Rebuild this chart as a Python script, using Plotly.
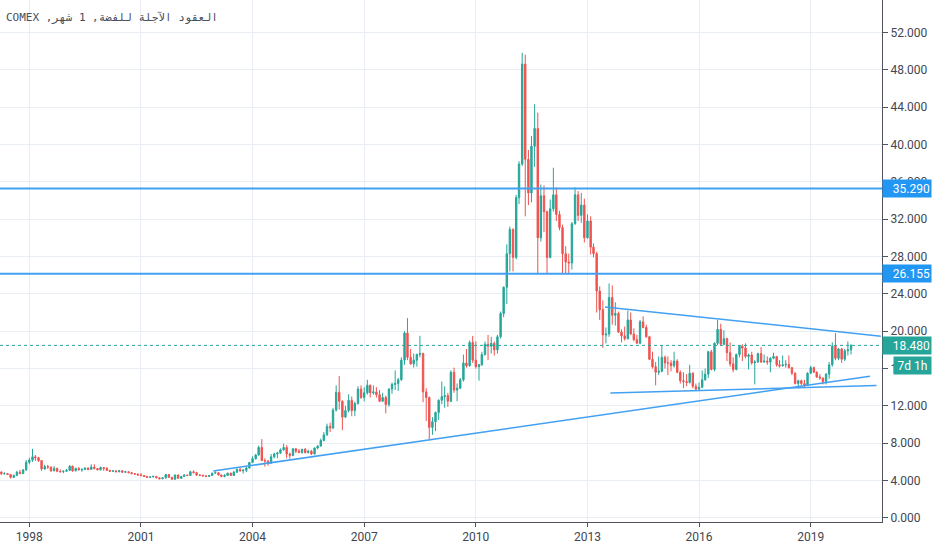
import pandas as pd
import plotly.graph_objects as go

# ---------------- data (monthly silver futures, COMEX) ----------------
start_month = "1997-03-01"

opens = [
    5.20, 4.93, 4.74, 4.75, 4.66, 4.35, 4.55, 4.90, 4.75, 5.15,  # 1997 (Mar-Dec)
    5.96, 6.20, 6.55, 6.45, 6.15, 5.25, 5.50, 5.45, 5.05, 5.30, 5.00, 4.95,  # 1998
    5.00, 5.10, 5.55, 5.05, 5.30, 5.15, 5.20, 5.35, 5.20, 5.45, 5.30, 5.15,  # 1999
    5.40, 5.30, 5.10, 5.00, 5.05, 4.95, 5.05, 4.90, 4.95, 4.85, 4.75, 4.70,  # 2000
    4.60, 4.55, 4.45, 4.35, 4.40, 4.45, 4.30, 4.20, 4.30, 4.65, 4.35, 4.15,  # 2001
    4.60, 4.25, 4.45, 4.60, 4.55, 4.95, 4.85, 4.60, 4.55, 4.50, 4.45, 4.55,  # 2002
    4.80, 4.85, 4.60, 4.45, 4.55, 4.80, 4.55, 4.90, 5.20, 5.05, 5.10, 5.35,  # 2003
    5.95, 6.35, 6.75, 7.55, 6.15, 6.10, 5.85, 6.55, 6.85, 6.95, 7.30, 7.55,  # 2004
    6.85, 6.70, 7.40, 7.15, 7.00, 7.35, 7.00, 7.15, 6.85, 7.50, 7.70, 8.30,  # 2005
    8.90, 9.80, 9.65, 11.55, 13.45, 12.50, 10.80, 11.50, 12.60, 11.50, 12.25, 13.80,  # 2006
    12.90, 13.40, 14.20, 13.40, 13.50, 13.20, 12.50, 12.90, 12.15, 13.80, 14.30, 14.40,  # 2007
    14.80, 16.90, 19.80, 17.20, 16.50, 16.90, 17.50, 17.60, 13.50, 12.90, 9.70, 10.30,  # 2008
    11.30, 12.60, 13.00, 13.10, 12.50, 15.60, 13.70, 13.90, 14.80, 16.60, 16.30, 18.80,  # 2009
    16.90, 16.20, 16.40, 17.50, 18.60, 18.40, 18.70, 18.00, 19.40, 21.90, 24.70, 28.30,  # 2010
    30.90, 27.90, 34.30, 37.90, 48.60, 38.40, 34.80, 39.80, 41.70, 30.00, 34.50, 32.80,  # 2011
    27.90, 33.10, 34.60, 32.50, 31.10, 28.30, 27.40, 27.30, 31.50, 34.60, 32.40, 33.50,  # 2012
    30.00, 31.80, 29.00, 28.30, 24.30, 22.30, 19.60, 19.70, 23.60, 21.70, 21.90, 19.90,  # 2013
    19.50, 19.20, 21.20, 19.70, 19.10, 18.70, 21.00, 20.40, 19.40, 17.00, 16.20, 15.60,  # 2014
    15.70, 17.20, 16.60, 16.60, 16.30, 16.80, 15.60, 14.70, 14.60, 14.50, 15.50, 14.10,  # 2015
    13.80, 14.00, 14.80, 15.40, 17.80, 15.90, 18.70, 20.20, 18.60, 19.20, 17.70, 16.50,  # 2016
    15.90, 17.50, 18.40, 18.20, 17.30, 17.45, 16.60, 16.70, 17.60, 16.70, 16.80, 16.70,  # 2017
    17.10, 17.30, 16.40, 16.30, 16.40, 16.45, 16.10, 15.50, 14.40, 14.70, 14.40, 14.20,  # 2018
    15.50, 16.10, 15.60, 15.10, 15.00, 14.60, 15.40, 16.40, 18.40, 17.10, 18.10, 17.00,  # 2019
    17.90, 18.00,  # 2020
]
highs = [
    5.25, 4.97, 4.90, 4.80, 4.70, 4.65, 5.05, 5.15, 5.25, 6.20,
    6.45, 7.40, 6.75, 6.55, 6.20, 5.70, 5.70, 5.50, 5.55, 5.40, 5.20, 5.10,
    5.25, 5.65, 5.60, 5.40, 5.45, 5.30, 5.40, 5.40, 5.75, 5.75, 5.35, 5.50,
    5.45, 5.45, 5.15, 5.10, 5.10, 5.15, 5.10, 5.05, 5.00, 4.90, 4.80, 4.75,
    4.80, 4.60, 4.50, 4.45, 4.55, 4.50, 4.35, 4.35, 4.70, 4.70, 4.40, 4.65,
    4.65, 4.50, 4.70, 4.65, 5.05, 5.10, 4.95, 4.70, 4.65, 4.60, 4.60, 4.85,
    5.00, 4.90, 4.65, 4.70, 4.85, 4.85, 5.05, 5.30, 5.35, 5.25, 5.45, 6.00,
    6.60, 6.85, 7.75, 8.45, 6.40, 6.20, 6.85, 7.00, 7.10, 7.45, 7.95, 7.80,
    7.00, 7.50, 7.50, 7.40, 7.40, 7.50, 7.30, 7.30, 7.55, 7.80, 8.50, 9.20,
    10.10, 10.20, 11.80, 14.20, 15.20, 12.60, 12.00, 13.25, 13.00, 12.45, 14.10, 14.20,
    14.00, 14.80, 14.30, 14.20, 14.00, 13.70, 13.40, 13.10, 13.90, 14.50, 15.80, 15.00,
    17.20, 20.00, 21.40, 18.10, 17.60, 17.60, 19.50, 17.70, 13.90, 13.00, 10.80, 11.40,
    12.70, 14.60, 14.10, 13.40, 15.80, 16.10, 14.40, 15.00, 17.50, 18.10, 19.00, 19.50,
    18.90, 16.50, 17.80, 18.90, 19.60, 19.40, 18.90, 19.60, 22.10, 24.80, 29.30, 31.20,
    31.00, 34.60, 38.20, 49.80, 49.60, 39.40, 40.90, 44.30, 43.40, 35.70, 35.60, 32.90,
    34.10, 37.50, 35.40, 32.90, 31.40, 29.10, 28.30, 31.70, 35.40, 35.00, 34.80, 34.20,
    32.50, 32.30, 29.40, 28.50, 24.80, 23.30, 20.40, 25.10, 24.90, 23.10, 22.10, 20.20,
    20.50, 22.20, 22.00, 20.30, 19.60, 21.20, 21.60, 20.70, 19.50, 17.80, 16.70, 17.30,
    18.50, 17.40, 17.30, 16.90, 17.80, 17.00, 15.80, 15.60, 15.40, 16.40, 15.60, 14.40,
    14.50, 15.80, 16.00, 17.90, 18.00, 18.80, 21.20, 20.80, 20.10, 19.30, 18.80, 17.20,
    17.60, 18.50, 18.60, 18.70, 17.60, 17.80, 16.90, 17.70, 18.30, 17.50, 17.30, 17.20,
    17.70, 17.30, 16.90, 17.40, 16.90, 17.40, 16.10, 15.60, 14.80, 14.80, 14.80, 15.60,
    16.30, 16.20, 15.70, 15.40, 15.00, 15.50, 16.70, 18.80, 19.80, 18.20, 18.20, 18.10,
    18.90, 18.60,
]
lows = [
    4.85, 4.60, 4.65, 4.60, 4.22, 4.30, 4.50, 4.70, 4.72, 5.05,
    5.75, 6.00, 6.10, 6.00, 5.05, 5.15, 5.25, 4.95, 5.00, 4.90, 4.85, 4.80,
    4.95, 5.05, 4.95, 5.00, 5.10, 4.95, 5.15, 5.10, 5.15, 5.20, 5.10, 5.10,
    5.05, 5.05, 4.95, 4.95, 4.90, 4.90, 4.85, 4.85, 4.80, 4.70, 4.60, 4.55,
    4.45, 4.40, 4.30, 4.30, 4.35, 4.25, 4.15, 4.15, 4.20, 4.30, 4.10, 4.10,
    4.20, 4.20, 4.40, 4.50, 4.50, 4.80, 4.50, 4.50, 4.45, 4.40, 4.40, 4.50,
    4.75, 4.55, 4.35, 4.35, 4.50, 4.50, 4.50, 4.85, 4.95, 4.75, 4.90, 5.30,
    5.95, 6.25, 6.65, 6.10, 5.50, 5.60, 5.85, 6.40, 6.40, 6.85, 7.20, 6.40,
    6.35, 6.60, 6.95, 6.95, 6.90, 6.90, 6.90, 6.75, 6.80, 7.35, 7.65, 8.20,
    8.80, 9.20, 9.50, 11.40, 11.60, 9.40, 10.70, 11.30, 10.90, 10.90, 12.15, 12.75,
    12.50, 13.20, 12.90, 13.20, 12.90, 12.40, 12.45, 11.20, 11.90, 13.30, 13.70, 13.60,
    14.70, 16.40, 16.90, 16.40, 16.10, 16.20, 17.20, 12.40, 10.40, 8.40, 8.90, 9.30,
    10.50, 12.20, 11.80, 11.90, 12.40, 13.40, 12.50, 13.80, 14.60, 16.10, 16.20, 16.60,
    16.00, 14.70, 16.30, 17.40, 16.90, 17.60, 17.40, 17.60, 19.20, 21.50, 22.90, 26.40,
    26.40, 27.70, 33.60, 37.70, 32.30, 33.50, 33.80, 37.60, 26.10, 29.60, 30.60, 26.10,
    27.80, 32.80, 31.80, 30.80, 26.10, 26.20, 26.10, 26.60, 31.40, 31.80, 31.60, 29.50,
    29.90, 28.20, 27.90, 22.00, 21.20, 18.20, 18.70, 19.40, 20.70, 20.60, 19.80, 18.80,
    19.00, 19.10, 19.60, 18.90, 18.70, 18.60, 20.30, 19.30, 16.90, 16.00, 14.20, 15.30,
    15.60, 16.00, 15.30, 15.70, 16.10, 15.50, 14.40, 13.90, 14.10, 14.40, 13.90, 13.60,
    13.60, 13.90, 14.70, 15.00, 15.80, 15.70, 18.50, 18.40, 18.50, 16.80, 16.20, 15.60,
    15.80, 17.20, 16.80, 17.10, 15.90, 16.40, 14.30, 16.60, 16.60, 16.60, 16.40, 15.60,
    17.00, 16.20, 16.10, 16.20, 16.10, 16.00, 15.30, 14.30, 13.90, 14.20, 13.90, 14.20,
    15.40, 15.60, 15.00, 14.80, 14.30, 14.30, 14.90, 16.20, 16.90, 16.90, 16.60, 16.80,
    17.40, 17.50,
]
closes = [
    4.93, 4.74, 4.75, 4.66, 4.35, 4.55, 4.90, 4.75, 5.15, 5.96,
    6.20, 6.55, 6.45, 6.15, 5.25, 5.50, 5.45, 5.05, 5.30, 5.00, 4.95, 5.00,
    5.10, 5.55, 5.05, 5.30, 5.15, 5.20, 5.35, 5.20, 5.45, 5.30, 5.15, 5.40,
    5.30, 5.10, 5.00, 5.05, 4.95, 5.05, 4.90, 4.95, 4.85, 4.75, 4.70, 4.60,
    4.55, 4.45, 4.35, 4.40, 4.45, 4.30, 4.20, 4.30, 4.65, 4.35, 4.15, 4.60,
    4.25, 4.45, 4.60, 4.55, 4.95, 4.85, 4.60, 4.55, 4.50, 4.45, 4.55, 4.80,
    4.85, 4.60, 4.45, 4.55, 4.80, 4.55, 4.90, 5.20, 5.05, 5.10, 5.35, 5.95,
    6.35, 6.75, 7.55, 6.15, 6.10, 5.85, 6.55, 6.85, 6.95, 7.30, 7.55, 6.85,
    6.70, 7.40, 7.15, 7.00, 7.35, 7.00, 7.15, 6.85, 7.50, 7.70, 8.30, 8.90,
    9.80, 9.65, 11.55, 13.45, 12.50, 10.80, 11.50, 12.60, 11.50, 12.25, 13.80, 12.90,
    13.40, 14.20, 13.40, 13.50, 13.20, 12.50, 12.90, 12.15, 13.80, 14.30, 14.40, 14.80,
    16.90, 19.80, 17.20, 16.50, 16.90, 17.50, 17.60, 13.50, 12.90, 9.70, 10.30, 11.30,
    12.60, 13.00, 13.10, 12.50, 15.60, 13.70, 13.90, 14.80, 16.60, 16.30, 18.80, 16.90,
    16.20, 16.40, 17.50, 18.60, 18.40, 18.70, 18.00, 19.40, 21.90, 24.70, 28.30, 30.90,
    27.90, 34.30, 37.90, 48.60, 38.40, 34.80, 39.80, 41.70, 30.00, 34.50, 32.80, 27.90,
    33.10, 34.60, 32.50, 31.10, 28.30, 27.40, 27.30, 31.50, 34.60, 32.40, 33.50, 30.00,
    31.80, 29.00, 28.30, 24.30, 22.30, 19.60, 19.70, 23.60, 21.70, 21.90, 19.90, 19.50,
    19.20, 21.20, 19.70, 19.10, 18.70, 21.00, 20.40, 19.40, 17.00, 16.20, 15.60, 15.70,
    17.20, 16.60, 16.60, 16.30, 16.80, 15.60, 14.70, 14.60, 14.50, 15.50, 14.10, 13.80,
    14.00, 14.80, 15.40, 17.80, 15.90, 18.70, 20.20, 18.60, 19.20, 17.70, 16.50, 15.90,
    17.50, 18.40, 18.20, 17.30, 17.45, 16.60, 16.70, 17.60, 16.70, 16.80, 16.70, 17.10,
    17.30, 16.40, 16.30, 16.40, 16.45, 16.10, 15.50, 14.40, 14.70, 14.40, 14.20, 15.50,
    16.10, 15.60, 15.10, 15.00, 14.60, 15.40, 16.40, 18.40, 17.10, 18.10, 17.00, 17.90,
    18.00, 18.48,
]

# horizontal levels and drawn trend lines
level_lines = [35.290, 26.155]
level_labels = ["35.290", "26.155"]
last_price = 18.480
last_price_label = "18.480"
countdown_label = "7d 1h"
trend_lines = [  # (date0, value0, date1, value1)
    ("2002-12-12", 5.03, "2020-08-05", 15.18),
    ("2013-06-22", 22.60, "2020-11-20", 19.46),
    ("2013-08-14", 13.39, "2020-10-08", 14.18),
]
year_ticks = ["1998", "2001", "2004", "2007", "2010", "2013", "2016", "2019"]
price_ticks = [0, 4, 8, 12, 16, 20, 24, 28, 32, 36, 40, 44, 48, 52]
title_text = "\u202bالعقود الآجلة للفضة, 1 شهر, COMEX\u202c"

months = pd.date_range(start_month, periods=len(closes), freq="MS")

UP = "#26a69a"
DOWN = "#ef5350"
BLUE = "#42a0f2"
GRID = "#e9edf4"
AXIS_TXT = "#434651"

fig = go.Figure()
fig.add_trace(go.Candlestick(
    x=months, open=opens, high=highs, low=lows, close=closes,
    increasing=dict(line=dict(color=UP, width=1), fillcolor=UP),
    decreasing=dict(line=dict(color=DOWN, width=1), fillcolor=DOWN),
    whiskerwidth=0, showlegend=False, hoverinfo="skip",
))

shapes = []
for lv in level_lines:
    shapes.append(dict(type="line", xref="paper", x0=0, x1=1, yref="y", y0=lv, y1=lv,
                       line=dict(color=BLUE, width=2)))
shapes.append(dict(type="line", xref="paper", x0=0, x1=1, yref="y", y0=last_price, y1=last_price,
                   line=dict(color=UP, width=1, dash="dot")))
for d0, v0, d1, v1 in trend_lines:
    shapes.append(dict(type="line", xref="x", yref="y", x0=d0, y0=v0, x1=d1, y1=v1,
                       line=dict(color=BLUE, width=1.5)))

annotations = [dict(
    text=title_text, xref="paper", yref="paper", x=0, y=1, xanchor="left", yanchor="top",
    xshift=4, yshift=-9, showarrow=False,
    font=dict(family="DejaVu Sans Mono", size=11, color="#4a4e5a"),
)]
for lv, lab in zip(level_lines, level_labels):
    annotations.append(dict(
        text=lab, xref="paper", yref="y", x=1, y=lv, xanchor="left", yanchor="middle",
        showarrow=False, bgcolor="#2196f3", width=46, height=15, borderpad=1, align="right",
        font=dict(family="Roboto", size=12, color="white"),
    ))
annotations.append(dict(
    text=last_price_label, xref="paper", yref="y", x=1, y=last_price, xanchor="left", yanchor="middle",
    showarrow=False, bgcolor=UP, width=46, height=15, borderpad=1, align="right",
    font=dict(family="Roboto", size=12, color="white"),
))
annotations.append(dict(
    text=countdown_label, xref="paper", yref="y", x=1, y=last_price, xanchor="left", yanchor="middle",
    xshift=11, yshift=-20, showarrow=False, bgcolor=UP, width=35, height=15, borderpad=1, align="center",
    font=dict(family="Roboto", size=12, color="white"),
))

fig.update_layout(
    width=932, height=550,
    margin=dict(l=0, r=50, t=0, b=28),
    paper_bgcolor="white", plot_bgcolor="white",
    shapes=shapes, annotations=annotations,
    font=dict(family="Roboto", size=12, color=AXIS_TXT),
    xaxis=dict(
        type="date", range=["1997-03-19", "2020-12-01"],
        rangeslider=dict(visible=False),
        tickvals=[f"{y}-01-01" for y in year_ticks], ticktext=year_ticks,
        showgrid=True, gridcolor=GRID, gridwidth=1,
        showline=True, linecolor="#50535e", linewidth=1,
        ticks="outside", ticklen=4, tickcolor="#50535e",
        zeroline=False, tickfont=dict(family="Roboto", size=12, color=AXIS_TXT),
    ),
    yaxis=dict(
        side="right", range=[-0.43, 55.46],
        tickvals=price_ticks, tickformat=".3f",
        showgrid=True, gridcolor=GRID, gridwidth=1,
        showline=True, linecolor="#50535e", linewidth=1,
        ticks="outside", ticklen=5, tickcolor="#50535e",
        zeroline=False, tickfont=dict(family="Roboto", size=12, color=AXIS_TXT),
    ),
)

fig.write_html(
    "out.html",
    config={"displayModeBar": False, "staticPlot": True},
    post_script="document.body.style.margin='0';document.body.style.overflow='hidden';",
)
